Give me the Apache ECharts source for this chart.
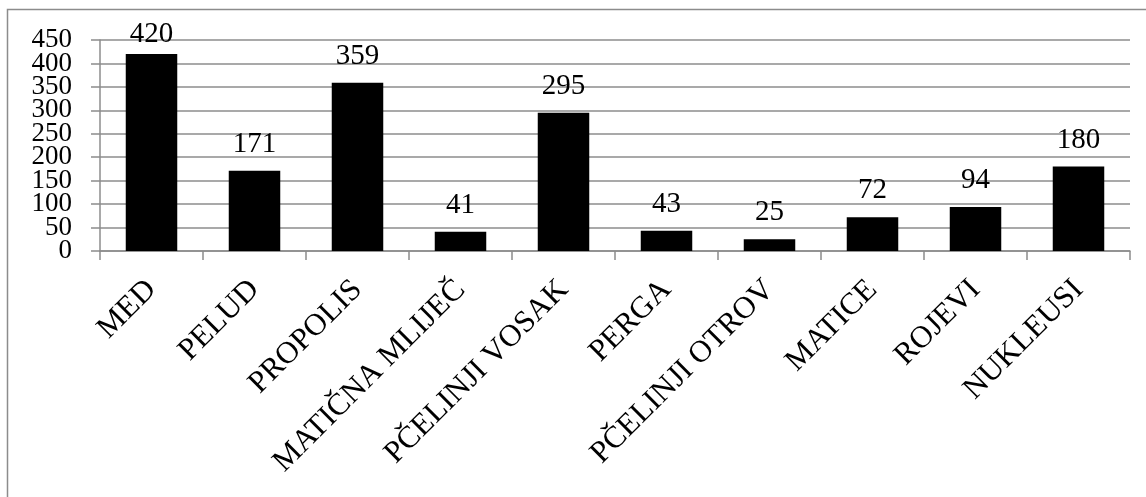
<!DOCTYPE html>
<html><head><meta charset="utf-8">
<script src="https://cdn.jsdelivr.net/npm/echarts@6/dist/echarts.min.js"></script>
<style>html,body{margin:0;padding:0;background:#fff}#c{width:1146px;height:497px}</style>
</head><body><div id="c"></div>
<script>
const categories = ['MED','PELUD','PROPOLIS','MATIČNA MLIJEČ','PČELINJI VOSAK','PERGA','PČELINJI OTROV','MATICE','ROJEVI','NUKLEUSI'];
const values = [420,171,359,41,295,43,25,72,94,180];
const yTicks = {min:0, max:450, interval:50};
const font = 'Liberation Serif, Times New Roman, serif';
const gridColor = '#8c8c8c';
const yLabelStyle = {color:'#000',fontFamily:font,fontSize:27,margin:28,hideOverlap:false};
const chart = echarts.init(document.getElementById('c'), null, {renderer:'canvas'});
chart.setOption({
  animation:false,
  graphic:[{type:'rect', shape:{x:7.5,y:9.5,width:1300,height:700}, style:{fill:'none',stroke:gridColor,lineWidth:1.5}}],
  grid:{left:100,top:40,right:16,bottom:246,containLabel:false},
  xAxis:{type:'category',data:categories,
    axisLine:{lineStyle:{color:gridColor,width:1.5}},
    axisTick:{show:true,length:9,alignWithLabel:false,lineStyle:{color:gridColor,width:1.5}},
    axisLabel:{rotate:45,color:'#000',fontFamily:font,fontSize:31,margin:34,interval:0,hideOverlap:false}},
  yAxis:[
    {type:'value',min:yTicks.min,max:yTicks.max,interval:yTicks.interval,
      axisLine:{show:true,lineStyle:{color:gridColor,width:1.5}},
      axisTick:{show:true,length:9,lineStyle:{color:gridColor,width:1.5}},
      splitLine:{lineStyle:{color:gridColor,width:1.5}},
      axisLabel:Object.assign({showMinLabel:true,showMaxLabel:true,
        formatter:v => (v===yTicks.min||v===yTicks.max) ? String(v) : ''}, yLabelStyle)},
    {type:'value',min:yTicks.min,max:yTicks.max,interval:yTicks.interval,position:'left',
      axisLine:{show:false},axisTick:{show:false},splitLine:{show:false},
      axisLabel:Object.assign({showMinLabel:false,showMaxLabel:false}, yLabelStyle)}
  ],
  series:[{type:'bar',data:values,barWidth:'50%',itemStyle:{color:'#000'},
    label:{show:true,position:'top',distance:12,color:'#000',fontFamily:font,fontSize:29},
    labelLayout:p => (p.labelRect && p.labelRect.y < 18
      ? {x:p.rect.x + p.rect.width/2, y:49, align:'center', verticalAlign:'bottom'} : {})}]
});
</script></body></html>
